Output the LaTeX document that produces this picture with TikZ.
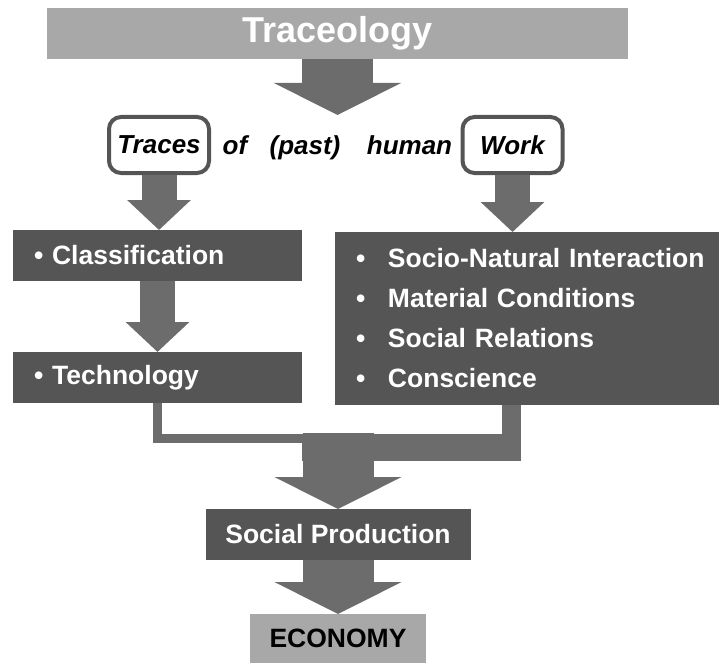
\documentclass[tikz,border=0pt]{standalone}
\usepackage{fontspec}
\setmainfont{Liberation Sans}
\usepackage{tikz}
\usetikzlibrary{positioning, arrows.meta}
\definecolor{darkgrey}{HTML}{555555}
\definecolor{arrowgrey}{HTML}{6C6C6C}
\definecolor{lightgrey}{HTML}{A8A8A8}
\tikzset{
	every node/.append style={
		font={\bfseries\fontsize{26.5}{40}\selectfont},
		inner sep=0pt,
		outer sep=0pt,
	},
	titlebox/.append style={
		fill=lightgrey,
		text=white,
		font={\bfseries\fontsize{36}{40}\selectfont},
		minimum width=581pt,
		minimum height=51pt
	},
	keyword/.append style={
		draw=darkgrey,
		line width=4pt,
		rounded corners=12pt,
		fill=white,
		outer sep=2pt,
		minimum width=100pt,
		minimum height=56pt,
		font={\bfseries\itshape\fontsize{26}{30}\selectfont}
	},
	plainword/.append style={
		anchor=base,
		font={\bfseries\itshape\fontsize{26}{30}\selectfont}
	},
	topic/.append style={
		fill=darkgrey,
		text=white,
		align=left,
		inner xsep=21pt,
		text width=247pt,
		minimum height=51pt
	},
	aspectbox/.append style={
		fill=darkgrey,
		text=white,
		align=left,
		inner xsep=21pt,
		text width=342pt,
		minimum height=173pt
	},
	resultbox/.append style={
		fill=darkgrey,
		text=white,
		minimum width=265pt,
		minimum height=51pt
	},
	finalbox/.append style={
		fill=lightgrey,
		minimum width=176pt,
		minimum height=49pt
	},
	bigarrow/.append style={
		draw=arrowgrey,
		line width=71pt,
		-{Triangle[length=32pt,width=126pt]}
	},
	smallarrow/.append style={
		draw=arrowgrey,
		line width=35pt,
		-{Triangle[length=30pt,width=62pt]}
	},
	thinbar/.append style={
		draw=arrowgrey,
		line width=9pt
	},
	thickbar/.append style={
		draw=arrowgrey,
		line width=19pt
	}
}
\newcommand{\itemrow}[1]{\makebox[32pt][l]{\textbullet}\mbox{#1}}

\begin{document}
\begin{tikzpicture}[x=1pt, y=-1pt]
\useasboundingbox (0,0) rectangle (719,663);

\node(title)[titlebox] at (337.5,33.5) {Traceology};

\node(traces)[keyword] at (159,145) {Traces};
\node(work)[keyword] at (512.5,145) {Work};
\node(of)[plainword] at (235,154.5) {of};
\node(past)[plainword] at (305,154.5) {(past)};
\node(human)[plainword] at (409.5,154.5) {human};

\node(classif)[topic] at (157.5,255.5) {\textbullet\ Classification};
\node(techno)[topic, below=71pt of classif] {\textbullet\ Technology};
\node(aspects)[aspectbox] at (527,318.5) {\itemrow{Socio-Natural Interaction}\\
	\itemrow{Material Conditions}\\
	\itemrow{Social Relations}\\
	\itemrow{Conscience}};

\node(prod)[resultbox] at (338,534.5) {Social Production};
\node(economy)[finalbox, below=54pt of prod] {ECONOMY};

\coordinate (thinend) at (505,438.5);
\coordinate (joinright) at (511,451.5);
\coordinate (joinleft) at (302,451.5);
\coordinate (join) at (338,433);

\draw[bigarrow] (title.south) -- (title.south |- traces.north);
\draw[smallarrow] (traces.south) -- (traces.south |- classif.north);
\draw[smallarrow] (work.south) -- (work.south |- aspects.north);
\draw[smallarrow] (classif.south) -- (techno.north);

\draw[thinbar] (techno.south) |- (thinend);
\draw[thickbar] (aspects.south -| joinright) |- (joinleft);
\draw[bigarrow] (join) -- (join |- prod.north);
\draw[bigarrow] (prod.south) -- (economy.north);

\end{tikzpicture}
\end{document}
